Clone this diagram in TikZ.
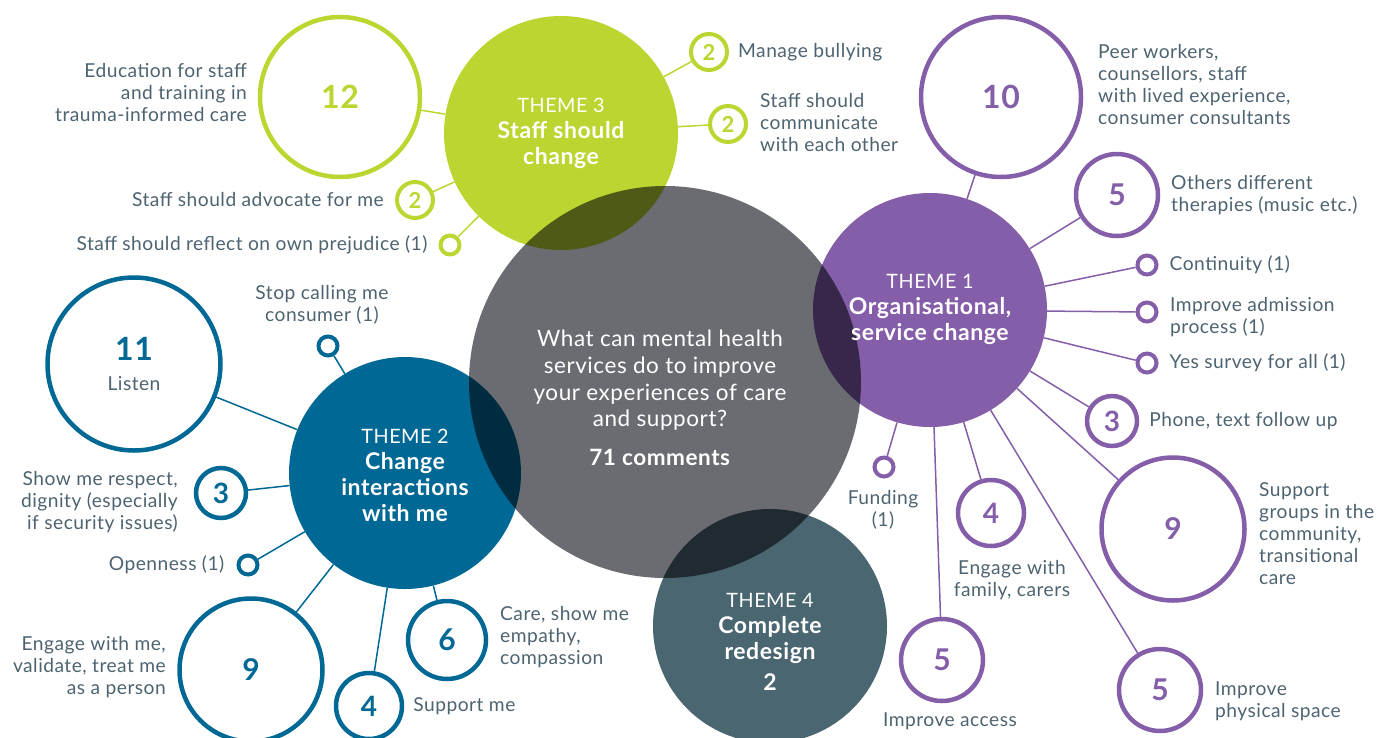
\documentclass[tikz,border=0pt]{standalone}
\usepackage{fontspec}
\setmainfont{Lato}[LetterSpace=2.5]
\usetikzlibrary{positioning}
\definecolor{themelime}{HTML}{BCD530}
\definecolor{themepurple}{HTML}{845EA8}
\definecolor{themeblue}{HTML}{006894}
\definecolor{themeslate}{HTML}{4A6670}
\definecolor{coregray}{HTML}{6B6C71}
\definecolor{labelgray}{HTML}{4D6370}
\tikzset{
theme/.style={circle, inner sep=0pt, minimum size=234pt}, % big filled circle of a theme
tally/.style={circle, draw, fill=white, line width=4.5pt, inner sep=0pt, font=\fontsize{30}{30}\selectfont\bfseries}, % ring holding a count
pair/.style={tally, line width=4pt, minimum size=36pt, font=\fontsize{22}{22}\selectfont\bfseries}, % ring holding a 2
dot/.style={circle, draw, fill=white, line width=4pt, inner sep=0pt, minimum size=19pt}, % single comment
limering/.style={draw=themelime, text=themelime},
bluering/.style={draw=themeblue, text=themeblue},
purplering/.style={draw=themepurple, text=themepurple},
lbl/.style={text=labelgray, inner sep=0pt, font=\fontsize{19.2}{22}\selectfont}, % grey caption
head/.style={text=white, align=center, inner sep=0pt, font=\fontsize{23}{26}\selectfont\bfseries}, % theme title
link/.style={line width=1.5pt},
}
\newcommand{\themeword}[1]{{\mdseries\fontsize{19.8}{26}\selectfont #1}}

\begin{document}
\begin{tikzpicture}[x=1pt, y=-1pt]
\clip (0,0) rectangle (1397,737);

% themes
\node[theme, fill=themelime] (t3) at (561,133) {};
\node[theme, fill=themepurple] (t1) at (930,310) {};
\node[theme, fill=themeblue, minimum size=232pt] (t2) at (405,473) {};
\node[theme, fill=themeslate] (t4) at (770,626) {};
\begin{scope}[blend mode=multiply]
\node[theme, fill=coregray, minimum size=392pt] (core) at (665,382) {};
\end{scope}

% theme 3
\node[tally, limering, minimum size=160pt, font=\fontsize{32}{32}\selectfont\bfseries] (g12) at (340,97) {12};
\node[pair, limering] (gadv) at (415,200) {2};
\node[dot, limering] (gref) at (450,245) {};
\node[pair, limering] (gbul) at (709,52) {2};
\node[pair, limering] (gcom) at (728,124) {2};

% theme 2
\node[tally, bluering, minimum size=173pt, align=center, font=\fontsize{32}{30}\selectfont\bfseries] (b11) at (134,364) {11\\{\mdseries\fontsize{19.2}{22}\selectfont\color{labelgray}Listen}};
\node[dot, bluering] (bstop) at (328,346) {};
\node[tally, bluering, minimum size=50pt, font=\fontsize{28}{28}\selectfont\bfseries] (b3) at (221,493) {3};
\node[dot, bluering] (bopen) at (248,565) {};
\node[tally, bluering, minimum size=143pt] (b9) at (251,670) {9};
\node[tally, bluering, minimum size=66pt, font=\fontsize{28}{28}\selectfont\bfseries] (b4) at (369,706) {4};
\node[tally, bluering, minimum size=78pt] (b6) at (447,640) {6};

% theme 1
\node[tally, purplering, minimum size=160pt, font=\fontsize{32}{32}\selectfont\bfseries] (p10) at (1001,97) {10};
\node[tally, purplering, minimum size=82pt] (p5a) at (1117,195) {5};
\node[dot, purplering] (pcont) at (1147,265) {};
\node[dot, purplering] (padm) at (1147,312) {};
\node[dot, purplering] (pyes) at (1147,363) {};
\node[tally, purplering, minimum size=50pt, font=\fontsize{28}{28}\selectfont\bfseries] (p3) at (1112,421) {3};
\node[tally, purplering, minimum size=143pt] (p9) at (1173,529) {9};
\node[tally, purplering, minimum size=82pt] (p5b) at (1160,690) {5};
\node[tally, purplering, minimum size=82pt] (p5c) at (942,660) {5};
\node[tally, purplering, minimum size=66pt, font=\fontsize{28}{28}\selectfont\bfseries] (p4) at (991,513) {4};
\node[dot, purplering] (pfund) at (884,467) {};

\draw[link, themelime]
(t3) edge (g12) (t3) edge (gadv) (t3) edge (gref)
(t3) edge (gbul) (t3) edge (gcom);
\draw[link, themeblue]
(t2) edge (b11) (t2) edge (bstop) (t2) edge (b3) (t2) edge (bopen)
(t2) edge (b9) (t2) edge (b4) (t2) edge (b6);
\draw[link, themepurple]
(t1) edge (p10) (t1) edge (p5a) (t1) edge (pcont) (t1) edge (padm)
(t1) edge (pyes) (t1) edge (p3) (t1) edge (p9) (t1) edge (p5b)
(t1) edge (p5c) (t1) edge (p4) (t1) edge (pfund);

% titles
\node[head] (h3) at (561,133) {\themeword{THEME 3}\\Staff should\\change};
\node[head] (h1) at (930,309) {\themeword{THEME 1}\\Organisational,\\service change};
\node[head] (h2) at (405,475) {\themeword{THEME 2}\\Change\\interactions\\with me};
\node[head] (h4) at (770,642) {\themeword{THEME 4}\\Complete\\redesign\\[5pt]2};
\node[head, font=\fontsize{22.5}{26.7}\selectfont] (q) at (660,398) {What can mental health\\services do to improve\\your experiences of care\\and support?\\[12pt]\textbf{71 comments}};

% captions
\node[lbl, align=right, anchor=east] at (247,93) {Education for staff\\and training in\\trauma-informed care};
\node[lbl, left=11pt of gadv] {Staff should advocate for me};
\node[lbl, left=11pt of gref] {Staff should reflect on own prejudice (1)};
\node[lbl, right=9pt of gbul] {Manage bullying};
\node[lbl, align=left, anchor=west] at (760,123) {Staff should\\communicate\\with each other};

\node[lbl, align=center] at (322,305) {Stop calling me\\consumer (1)};
\node[lbl, align=right, anchor=east] at (178,502) {Show me respect,\\dignity (especially\\if security issues)};
\node[lbl, left=12pt of bopen] {Openness (1)};
\node[lbl, align=right, anchor=east] at (166,667) {Engage with me,\\validate, treat me\\as a person};
\node[lbl, right=9pt of b4] {Support me};
\node[lbl, align=left, anchor=west] at (500,637) {Care, show me\\empathy,\\compassion};

\node[lbl, align=left, anchor=west] at (1098,85) {Peer workers,\\counsellors, staff\\with lived experience,\\consumer consultants};
\node[lbl, align=left, anchor=west] at (1171,195) {Others different\\therapies (music etc.)};
\node[lbl, right=11pt of pcont] {Continuity (1)};
\node[lbl, align=left, anchor=west] at (1170,317) {Improve admission\\process (1)};
\node[lbl, right=11pt of pyes] {Yes survey for all (1)};
\node[lbl, right=10pt of p3] {Phone, text follow up};
\node[lbl, align=left, anchor=west] at (1259,534) {Support\\groups in the\\community,\\transitional\\care};
\node[lbl, align=left, anchor=west] at (1215,701) {Improve\\physical space};
\node[lbl, align=center] at (883,510) {Funding\\(1)};
\node[lbl, align=center] at (1012,580) {Engage with\\family, carers};
\node[lbl] at (950,721) {Improve access};
\end{tikzpicture}
\end{document}
